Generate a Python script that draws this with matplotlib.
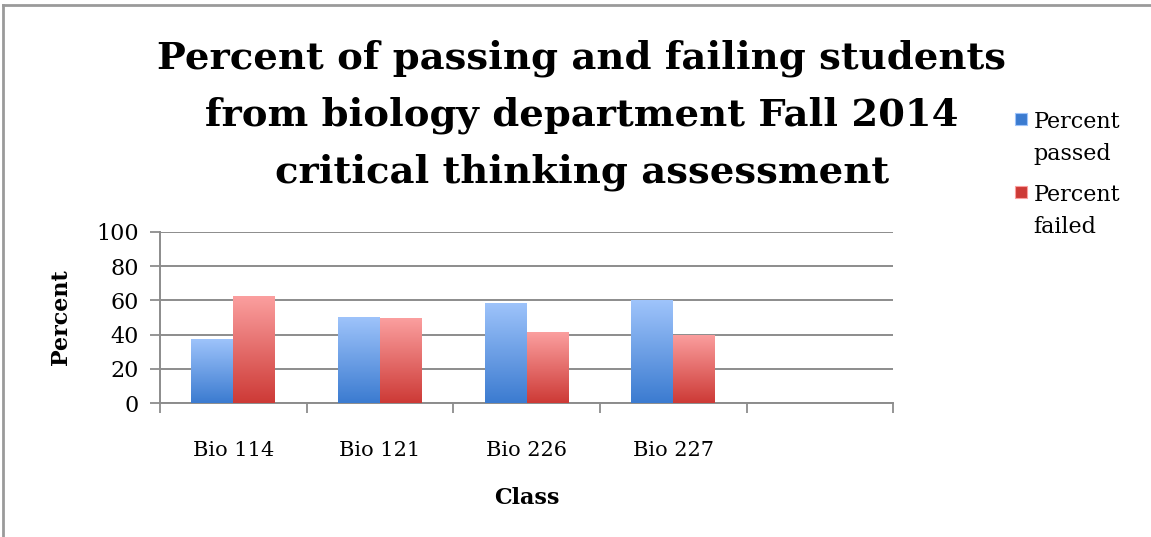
import numpy as np
import matplotlib.pyplot as plt
from matplotlib.lines import Line2D
from matplotlib.patches import Rectangle
from matplotlib.colors import LinearSegmentedColormap

classes = ['Bio 114', 'Bio 121', 'Bio 226', 'Bio 227', '']
passed = [37.5, 50.5, 58.5, 60.0, 0]
failed = [62.5, 49.5, 41.5, 40.0, 0]
series_names = ['Percent\npassed', 'Percent\nfailed']
yticks = [0, 20, 40, 60, 80, 100]

title = ('Percent of passing and failing students\n'
         'from biology department Fall 2014\n'
         'critical thinking assessment')

# gradient colours (top, bottom)
blue_grad = ('#9fc4fb', '#3b7bd0')
red_grad = ('#fb9f9f', '#cd3a36')

plt.rcParams['font.family'] = ['DejaVu Serif']

fig = plt.figure(figsize=(11.51, 5.37), dpi=100)
ax = fig.add_axes([0.139, 0.2495, 0.637, 0.3185])

x = np.arange(len(classes))
w = 1 / 3.5
b1 = ax.bar(x - w / 2, passed, w, color=blue_grad[1], zorder=3)
b2 = ax.bar(x + w / 2, failed, w, color=red_grad[1], zorder=3)

def gradient_fill(bars, grad):
    cmap = LinearSegmentedColormap.from_list('g', [grad[1], grad[0]])
    grid = np.linspace(0, 1, 256).reshape(-1, 1)
    for bar in bars:
        h = bar.get_height()
        if h <= 0:
            continue
        x0 = bar.get_x()
        im = ax.imshow(grid, cmap=cmap, aspect='auto', origin='lower',
                       extent=(x0, x0 + bar.get_width(), 0, h), zorder=4)
        im.set_clip_path(bar)

gradient_fill(b1, blue_grad)
gradient_fill(b2, red_grad)

ax.set_xlim(-0.5, len(classes) - 0.5)
ax.set_ylim(0, 100)
ax.set_yticks(yticks)
ax.set_yticklabels([str(t) for t in yticks], fontsize=16)
ax.set_xticks(x)
ax.set_xticklabels(classes, fontsize=15)
ax.set_xticks(np.arange(len(classes) + 1) - 0.5, minor=True)
ax.tick_params(axis='x', which='major', length=0, pad=27)
ax.tick_params(axis='x', which='minor', length=7, width=1.3, color='#8c8c8c', direction='out')
ax.tick_params(axis='y', length=7, width=1.3, color='#8c8c8c', pad=8)

ax.grid(axis='y', color='#8c8c8c', linewidth=1.4, zorder=0)
for s in ['top', 'right']:
    ax.spines[s].set_visible(False)
for s in ['left', 'bottom']:
    ax.spines[s].set_color('#8c8c8c')
    ax.spines[s].set_linewidth(1.4)

ax.set_ylabel('Percent', fontsize=16, fontweight='bold', labelpad=18)
ax.set_xlabel('Class', fontsize=16, fontweight='bold', labelpad=20)

fig.text(0.5056, 0.785, title, ha='center', va='center', fontsize=27.7,
         fontweight='bold', linespacing=1.67)

# legend
for i, (name, grad) in enumerate(zip(series_names, [blue_grad, red_grad])):
    yb = 0.767 - i * 0.136
    fig.patches.append(Rectangle((0.882, yb), 0.0104, 0.0223, transform=fig.transFigure,
                                 facecolor=grad[1], edgecolor=grad[0], linewidth=0.8))
    fig.text(0.898, yb + 0.0265, name, ha='left', va='top', fontsize=16, linespacing=1.62)

# outer frame (partially visible)
fig.add_artist(Line2D([0.003, 1.0], [0.991, 0.991], color='#9a9a9a', linewidth=2))
fig.add_artist(Line2D([0.003, 0.003], [0.0, 0.991], color='#9a9a9a', linewidth=2))

fig.savefig('out.png', dpi=100)
